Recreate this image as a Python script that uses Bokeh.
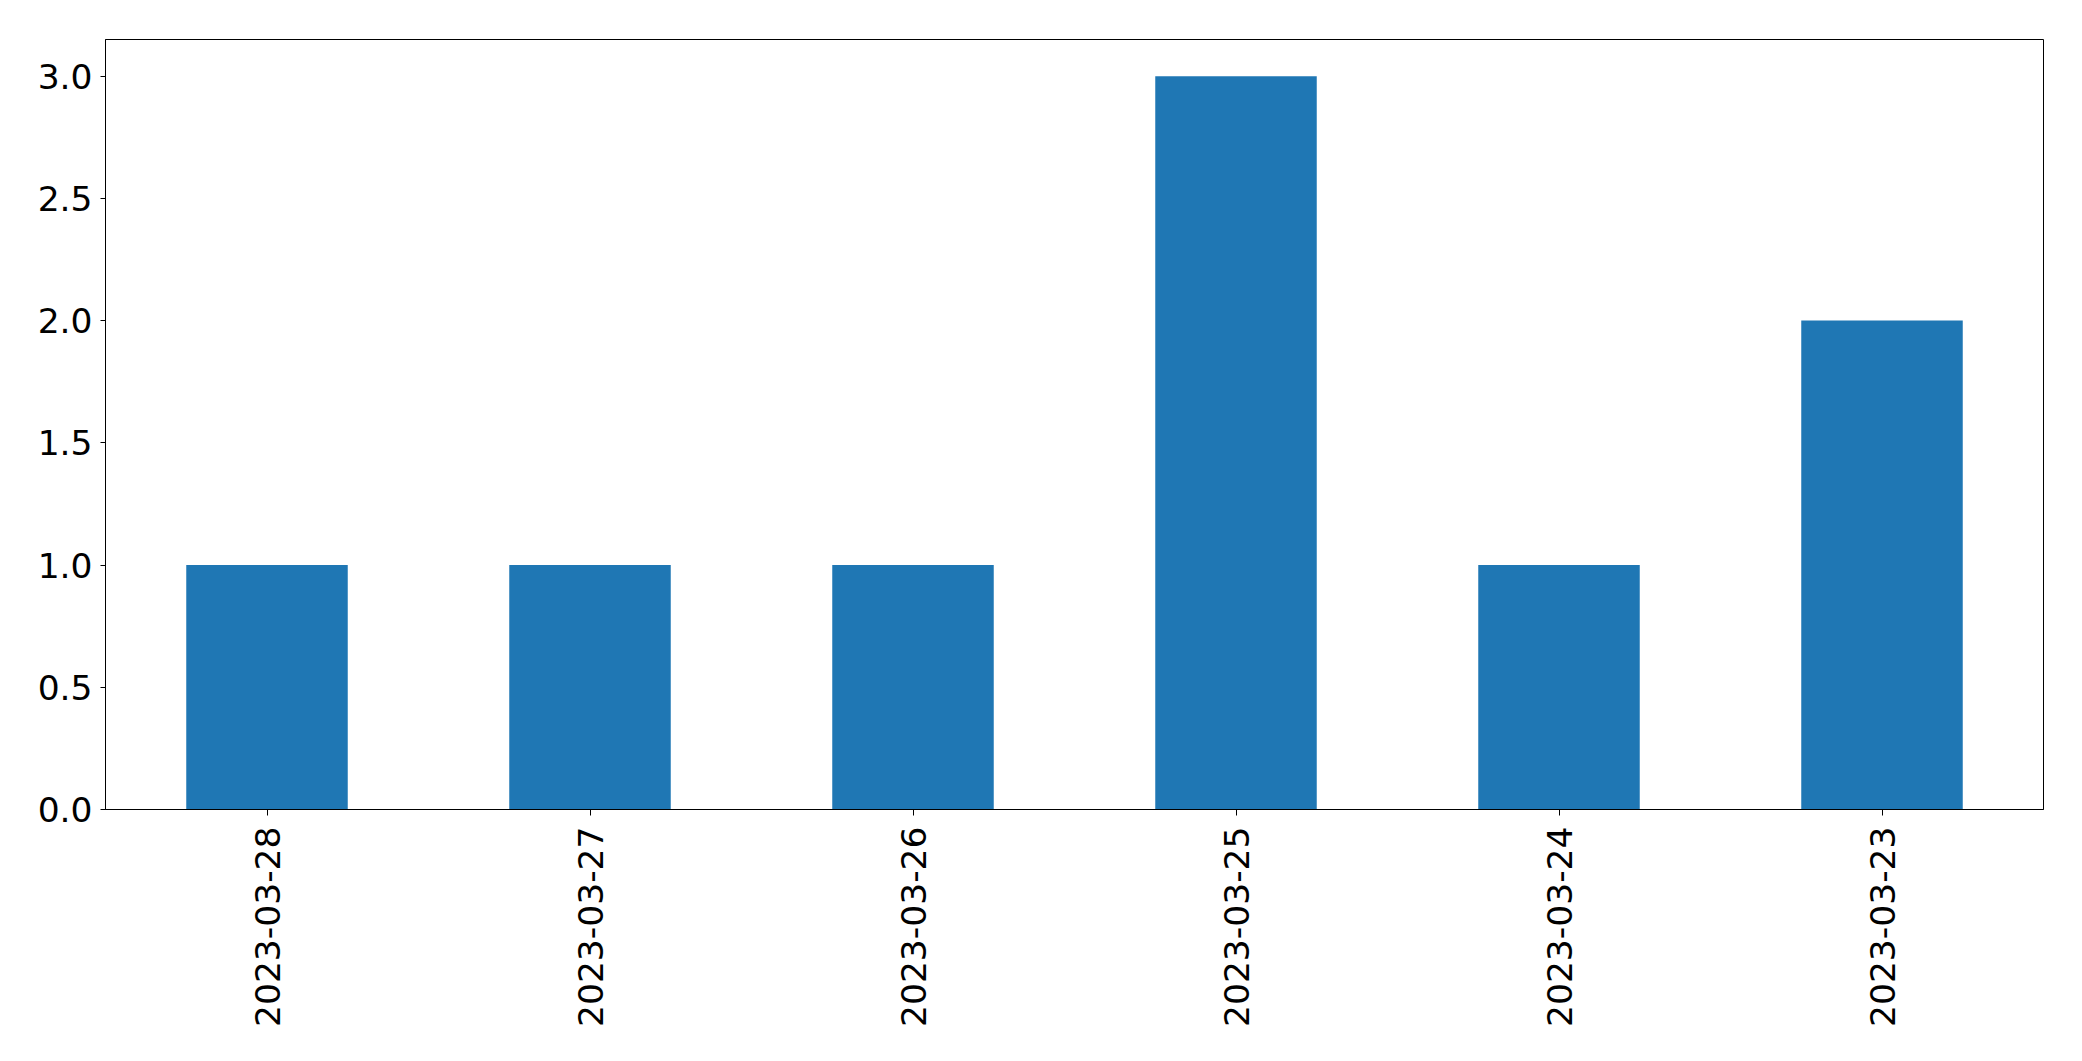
import math
from bokeh.plotting import figure
from bokeh.models import FactorRange, Range1d, SingleIntervalTicker, NumeralTickFormatter
from bokeh.embed import file_html
from bokeh.resources import INLINE

dates = ["2023-03-28", "2023-03-27", "2023-03-26", "2023-03-25", "2023-03-24", "2023-03-23"]
counts = [1, 1, 1, 3, 1, 2]

p = figure(width=2074, height=1053, output_backend="svg", toolbar_location=None,
           x_range=FactorRange(factors=dates, range_padding=0),
           y_range=Range1d(0, 3.15),
           min_border_left=105, min_border_top=39, min_border_right=31, min_border_bottom=244)

p.vbar(x=dates, top=counts, width=0.5, fill_color="#1f77b4", line_color=None)

p.xgrid.grid_line_color = None
p.ygrid.grid_line_color = None
p.outline_line_color = "black"
p.outline_line_width = 1
p.background_fill_color = "white"
p.border_fill_color = "white"

p.yaxis.ticker = SingleIntervalTicker(interval=0.5)
p.yaxis.formatter = NumeralTickFormatter(format="0.0")
p.xaxis.major_label_orientation = math.pi / 2

for ax in (p.xaxis[0], p.yaxis[0]):
    ax.major_label_text_font = "DejaVu Sans"
    ax.major_label_text_font_size = "34.5px"
    ax.major_label_text_color = "black"
    ax.axis_line_color = "black"
    ax.major_tick_line_color = "black"
    ax.major_tick_in = 0
    ax.minor_tick_line_color = None

p.yaxis.major_tick_out = 5
p.yaxis.major_label_standoff = 8
p.xaxis.major_tick_out = 6
p.xaxis.major_label_standoff = 11

open("out.html", "w").write(file_html(p, INLINE))
